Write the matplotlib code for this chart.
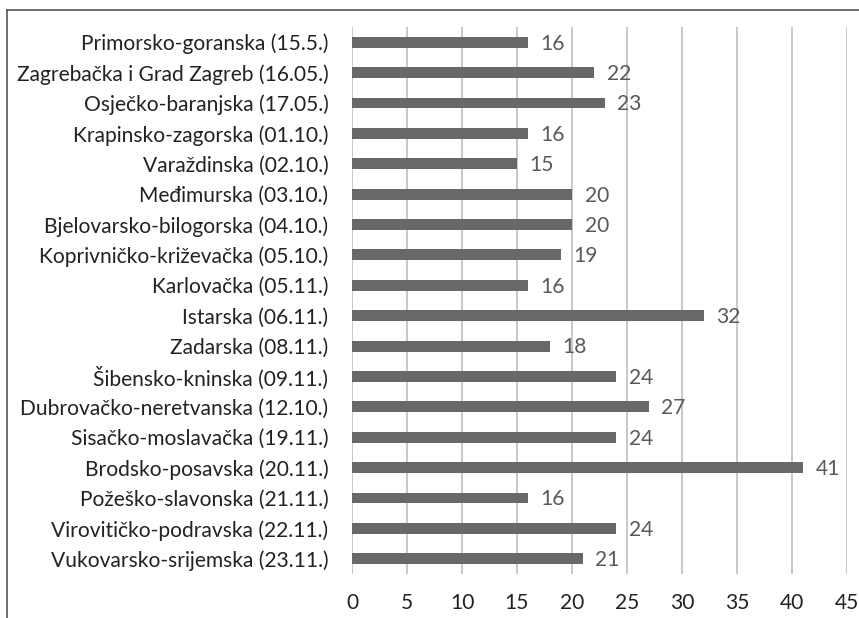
import matplotlib
matplotlib.use("Agg")
import matplotlib.pyplot as plt
from matplotlib.lines import Line2D

plt.rcParams['font.family'] = ['Lato', 'DejaVu Sans']

counties = [
    "Primorsko-goranska (15.5.)",
    "Zagrebačka i Grad Zagreb (16.05.)",
    "Osječko-baranjska (17.05.)",
    "Krapinsko-zagorska (01.10.)",
    "Varaždinska (02.10.)",
    "Međimurska (03.10.)",
    "Bjelovarsko-bilogorska (04.10.)",
    "Koprivničko-križevačka (05.10.)",
    "Karlovačka (05.11.)",
    "Istarska (06.11.)",
    "Zadarska (08.11.)",
    "Šibensko-kninska (09.11.)",
    "Dubrovačko-neretvanska (12.10.)",
    "Sisačko-moslavačka (19.11.)",
    "Brodsko-posavska (20.11.)",
    "Požeško-slavonska (21.11.)",
    "Virovitičko-podravska (22.11.)",
    "Vukovarsko-srijemska (23.11.)",
]
values = [16, 22, 23, 16, 15, 20, 20, 19, 16, 32, 18, 24, 27, 24, 41, 16, 24, 21]
x_ticks = [0, 5, 10, 15, 20, 25, 30, 35, 40, 45]

W, H = 859, 618
fig = plt.figure(figsize=(W / 100, H / 100), dpi=100)
fig.patch.set_facecolor("white")

# axes placed in pixel terms
left, right, top, bottom = 352, 847, 27, 574
ax = fig.add_axes([left / W, 1 - bottom / H, (right - left) / W, (bottom - top) / H])

y = list(range(len(counties)))
ax.barh(y, values, height=0.36, color="#68686b", zorder=3)
ax.set_ylim(len(counties) - 0.5, -0.5)
ax.set_xlim(0, 45)
ax.set_xticks(x_ticks)
ax.set_xticklabels([str(t) for t in x_ticks])
ax.set_yticks(y)
ax.set_yticklabels(counties)

ax.grid(axis="x", color="#c4c4c4", linewidth=1.3, zorder=0)
ax.grid(axis="y", visible=False)
for s in ax.spines.values():
    s.set_visible(False)
ax.tick_params(axis="both", length=0)
ax.tick_params(axis="y", pad=17, labelsize=15.1, labelcolor="#222222")
ax.tick_params(axis="x", pad=14, labelsize=15.1, labelcolor="#222222")

for yi, v in zip(y, values):
    ax.annotate(str(v), xy=(v, yi), xytext=(9, -1), textcoords="offset points",
                va="center", ha="left", fontsize=15.1, color="#595959")

# outer frame (top and left edges)
fig.add_artist(Line2D([7 / W, 1], [1 - 10 / H, 1 - 10 / H], color="#555555",
                      linewidth=1.2, transform=fig.transFigure))
fig.add_artist(Line2D([7 / W, 7 / W], [1 - 10 / H, 0], color="#555555",
                      linewidth=1.2, transform=fig.transFigure))

fig.savefig("out.png", dpi=100, facecolor="white")
